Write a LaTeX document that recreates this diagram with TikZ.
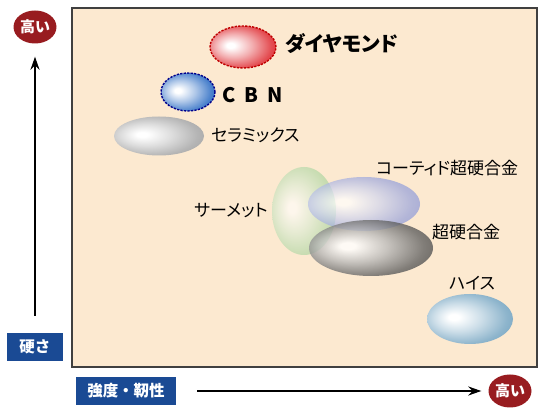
\documentclass[tikz,border=0pt]{standalone}
\usepackage{fontspec}
\setmainfont{Noto Sans CJK JP}[RawFeature=+palt]
\newfontfamily\jpfull{Noto Sans CJK JP}
\usetikzlibrary{shapes.geometric,arrows.meta,positioning}
\definecolor{peach}{RGB}{252,233,208}
\definecolor{hired}{RGB}{152,28,32}
\definecolor{labblue}{RGB}{26,74,148}
\definecolor{shcol}{RGB}{128,128,128}
\definecolor{diared}{RGB}{220,28,34}
\definecolor{cbnblue}{RGB}{25,95,190}
\definecolor{cergray}{RGB}{160,160,160}
\definecolor{cermgreen}{RGB}{140,200,130}
\definecolor{coatblue}{RGB}{120,135,210}
\definecolor{carbgray}{RGB}{55,55,55}
\definecolor{hssblue}{RGB}{110,160,190}
\pgfdeclareradialshading[shcol]{glossy}{\pgfpoint{-10bp}{2bp}}{color(0bp)=(white); color(3bp)=(white); color(14bp)=(shcol!35!white); color(26bp)=(shcol!78!white); color(36bp)=(shcol); color(50bp)=(shcol)}
\tikzset{
  blob/.style={ellipse, inner sep=0pt, shading=glossy, /utils/exec={\colorlet{shcol}{#1}}},
  hilab/.style={ellipse, fill=hired, text=white, font=\jpfull\bfseries\fontsize{15}{15}\selectfont, minimum width=43pt, minimum height=33pt, inner sep=0pt},
  axlab/.style={fill=labblue, text=white, font=\jpfull\bfseries\fontsize{15.5}{15.5}\selectfont, inner sep=0pt},
  mat/.style={font=\fontsize{17}{17}\selectfont, anchor=west, inner sep=0pt}
}
\begin{document}
\begin{tikzpicture}[x=1pt,y=-1pt]
\useasboundingbox (0,0) rectangle (558,414);
\draw[fill=peach, draw=black!75, line width=1.6pt] (72,8) rectangle (537,367);

\node[blob=diared, minimum width=66pt, minimum height=42pt, draw=red!75!black, line width=1.4pt, dash pattern=on 2.2pt off 1.3pt] (dia) at (243,47) {};
\node[blob=cbnblue, minimum width=54pt, minimum height=38pt, draw=blue!55!black, line width=1.4pt, dash pattern=on 2.2pt off 1.3pt] (cbn) at (188,92) {};
\node[blob=cergray, minimum width=90pt, minimum height=39pt] (cer) at (159,136) {};
\node[blob=cermgreen, minimum width=64pt, minimum height=88pt, fill opacity=0.6] (cerm) at (304,211) {};
\node[blob=coatblue, minimum width=112pt, minimum height=54pt, fill opacity=0.7] (coat) at (364,204) {};
\node[blob=carbgray, minimum width=124pt, minimum height=56pt, fill opacity=0.8] (carb) at (371,248) {};
\node[blob=hssblue, minimum width=86pt, minimum height=50pt] (hss) at (470,319) {};

\node[mat, font=\bfseries\fontsize{20.5}{20.5}\selectfont] (tdia) at (285,44) {ダイヤモンド};
\node[mat, font=\bfseries\fontsize{20}{20}\selectfont] (tcbn) at (222,95) {C\hspace{9pt}B\hspace{9pt}N};
\node[mat] (tcer) at (211,135) {セラミックス};
\node[mat] (tcerm) at (194,211) {サーメット};
\node[mat] (tcoat) at (376,168) {コーティド超硬合金};
\node[mat] (tcarb) at (432,232) {超硬合金};
\node[mat] (thss) at (449,283) {ハイス};

\node[hilab] (hiv) at (35,27) {高い};
\node[hilab] (hih) at (510,391) {高い};
\node[axlab, minimum width=56pt, minimum height=28pt] (hard) at (35,347) {硬さ};
\node[axlab, minimum width=100pt, minimum height=28pt] (tough) at (126,391) {強度・靭性};

\coordinate (vbot) at (35,316);
\draw[line width=1.8pt, -{Stealth[length=13pt,width=9pt]}, shorten >=13pt] (vbot) -- (hiv);
\draw[line width=1.8pt, -{Stealth[length=13pt,width=9pt]}, shorten <=21pt, shorten >=7pt] (tough.east) -- (hih.west);
\end{tikzpicture}
\end{document}
